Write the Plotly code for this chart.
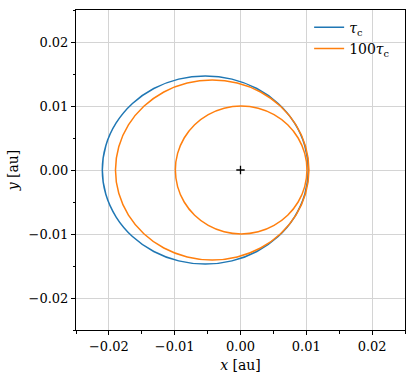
import plotly.graph_objects as go

# orbit points (au), traced counter-clockwise from the right-hand side
tau_x = [0.01030, 0.00977, 0.00820, 0.00572, 0.00248, -0.00130, -0.00535, -0.00940, -0.01318,
         -0.01642, -0.01890, -0.02047, -0.02100, -0.02047, -0.01890, -0.01642, -0.01318, -0.00940,
         -0.00535, -0.00130, 0.00248, 0.00572, 0.00820, 0.00977, 0.01030]
tau_y = [0.0, 0.00380, 0.00735, 0.01039, 0.01273, 0.01420, 0.01470, 0.01420, 0.01273,
         0.01039, 0.00735, 0.00380, 0.0, -0.00380, -0.00735, -0.01039, -0.01273, -0.01420,
         -0.01470, -0.01420, -0.01273, -0.01039, -0.00735, -0.00380, 0.0]

# 100 tau_c: wide initial orbit, then the circularised one
big_x = [0.01040, 0.00990, 0.00843, 0.00609, 0.00305, -0.00050, -0.00430, -0.00810, -0.01165,
         -0.01469, -0.01703, -0.01850, -0.01900, -0.01850, -0.01703, -0.01469, -0.01165, -0.00810,
         -0.00430, -0.00050, 0.00305, 0.00609, 0.00843, 0.00990, 0.01040]
big_y = [0.0, 0.00364, 0.00704, 0.00995, 0.01219, 0.01359, 0.01407, 0.01359, 0.01219,
         0.00995, 0.00704, 0.00364, 0.0, -0.00364, -0.00704, -0.00995, -0.01219, -0.01359,
         -0.01407, -0.01359, -0.01219, -0.00995, -0.00704, -0.00364, 0.0]
small_x = [0.01010, 0.00976, 0.00876, 0.00717, 0.00510, 0.00269, 0.00010, -0.00249, -0.00490,
           -0.00697, -0.00856, -0.00956, -0.00990, -0.00956, -0.00856, -0.00697, -0.00490, -0.00249,
           0.00010, 0.00269, 0.00510, 0.00717, 0.00876, 0.00976, 0.01010]
small_y = [0.0, 0.00259, 0.00500, 0.00707, 0.00866, 0.00966, 0.01000, 0.00966, 0.00866,
           0.00707, 0.00500, 0.00259, 0.0, -0.00259, -0.00500, -0.00707, -0.00866, -0.00966,
           -0.01000, -0.00966, -0.00866, -0.00707, -0.00500, -0.00259, 0.0]

fnt = "DejaVu Serif"

fig = go.Figure()
fig.add_trace(go.Scatter(x=tau_x, y=tau_y, mode='lines', name='<i>τ</i><sub>c</sub>',
                         line=dict(color='#1f77b4', width=1.5, shape='spline')))
fig.add_trace(go.Scatter(x=big_x + [None] + small_x, y=big_y + [None] + small_y, mode='lines',
                         name='100<i>τ</i><sub>c</sub>',
                         line=dict(color='#ff7f0e', width=1.5, shape='spline')))
# central body
fig.add_trace(go.Scatter(x=[0], y=[0], mode='markers', showlegend=False,
                         marker=dict(symbol='cross-thin', size=6, line=dict(color='black', width=1.3))))

axis_style = dict(range=[-0.025, 0.025], dtick=0.01, tick0=0, tickformat='.2f',
                  showgrid=True, gridcolor='#d4d4d4', gridwidth=1, zeroline=False,
                  showline=True, linecolor='black', linewidth=1, mirror=True,
                  ticks='outside', ticklen=4, tickcolor='black', automargin=False,
                  minor=dict(dtick=0.005, tick0=0, ticks='outside', ticklen=2.5, tickcolor='black', showgrid=False),
                  tickfont=dict(family=fnt, size=13, color='black'))

fig.update_layout(
    width=415, height=381,
    margin=dict(l=76, r=10, t=10, b=51),
    plot_bgcolor='white', paper_bgcolor='white',
    font=dict(family=fnt, size=13, color='black'),
    xaxis=dict(axis_style, title=dict(text='<i>x</i> [au]', standoff=7, font=dict(family=fnt, size=14))),
    yaxis=dict(axis_style, title=dict(text='<i>y</i> [au]', standoff=6, font=dict(family=fnt, size=14))),
    legend=dict(x=0.97, y=0.995, xanchor='right', yanchor='top', bgcolor='rgba(255,255,255,0)',
                font=dict(family=fnt, size=14), tracegroupgap=0),
)

fig.write_html("out.html", config={'displayModeBar': False},
               post_script="document.body.style.margin='0';")
